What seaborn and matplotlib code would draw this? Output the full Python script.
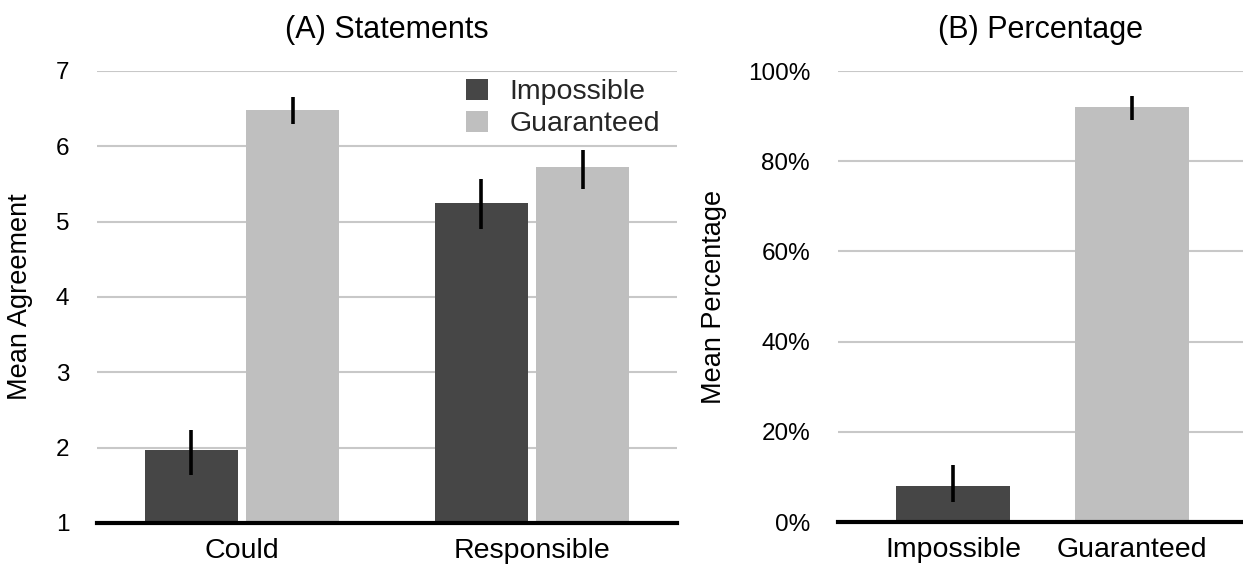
import matplotlib
matplotlib.use("Agg")
import matplotlib.pyplot as plt
import matplotlib.ticker as mticker
import numpy as np
import pandas as pd
import seaborn as sns

# Panel A: mean agreement with each statement, by condition
statements = ["Could", "Responsible"]
conditions = ["Impossible", "Guaranteed"]
agree_impossible = [1.97, 5.25]
agree_guaranteed = [6.48, 5.72]
agree_lo_impossible = [1.64, 4.90]
agree_hi_impossible = [2.23, 5.57]
agree_lo_guaranteed = [6.30, 5.43]
agree_hi_guaranteed = [6.65, 5.95]

# Panel B: mean percentage by condition
pct_mean = [8.0, 92.1]
pct_lo = [4.5, 89.1]
pct_hi = [12.6, 94.5]

yticks_a = [1, 2, 3, 4, 5, 6, 7]
yticks_b = [0, 20, 40, 60, 80, 100]

DARK = "#464646"
LIGHT = "#bfbfbf"
GRID = "#c8c8c8"

sns.set_theme(style="white")
plt.rcParams["font.family"] = ["Liberation Sans", "DejaVu Sans"]

fig = plt.figure(figsize=(12.43, 5.70), dpi=100)
ax_a = fig.add_axes([0.078, 0.0825, 0.4667, 0.793])
ax_b = fig.add_axes([0.674, 0.0842, 0.326, 0.7912])

df_a = pd.DataFrame({
    "statement": statements * 2,
    "condition": [conditions[0]] * 2 + [conditions[1]] * 2,
    "mean": agree_impossible + agree_guaranteed,
    "lo": agree_lo_impossible + agree_lo_guaranteed,
    "hi": agree_hi_impossible + agree_hi_guaranteed,
})
df_b = pd.DataFrame({"condition": conditions, "mean": pct_mean,
                     "lo": pct_lo, "hi": pct_hi})
palette = {conditions[0]: DARK, conditions[1]: LIGHT}

sns.barplot(data=df_a, x="statement", y="mean", hue="condition",
            hue_order=conditions, order=statements, palette=palette,
            width=0.7, gap=0.08, errorbar=None, saturation=1,
            linewidth=0, ax=ax_a)
sns.barplot(data=df_b, x="condition", y="mean", hue="condition",
            order=conditions, palette=palette, width=0.64,
            errorbar=None, saturation=1, linewidth=0, legend=False, ax=ax_b)


def add_errorbars(ax, df):
    """Draw error lines at the centre of each bar, matched by bar height."""
    for p in ax.patches:
        h = p.get_height()
        if not np.isfinite(h) or p.get_width() == 0:
            continue
        idx = (df["mean"] - h).abs().idxmin()
        if abs(df.loc[idx, "mean"] - h) > 1e-6:
            continue
        xc = p.get_x() + p.get_width() / 2
        ax.vlines(xc, df.loc[idx, "lo"], df.loc[idx, "hi"],
                  color="black", lw=2.6, zorder=5)


add_errorbars(ax_a, df_a)
add_errorbars(ax_b, df_b)

for ax in (ax_a, ax_b):
    ax.set_axisbelow(True)
    ax.yaxis.grid(True, color=GRID, lw=1.5)
    ax.xaxis.grid(False)
    for side in ("left", "right", "top"):
        ax.spines[side].set_visible(False)
    ax.spines["bottom"].set_color("black")
    ax.spines["bottom"].set_linewidth(3)
    ax.tick_params(axis="y", length=0, pad=20, labelsize=17.5, colors="black")
    ax.tick_params(axis="x", length=0, pad=11, labelsize=20.5, colors="black")
    ax.set_xlabel("")

ax_a.set_ylim(1, 7)
ax_a.set_yticks(yticks_a)
ax_a.set_xlim(-0.5, 1.5)
ax_a.set_ylabel("Mean Agreement", fontsize=19.5, labelpad=16, color="black")
ax_a.set_title("(A) Statements", fontsize=22, pad=24, color="black")

ax_b.set_ylim(0, 100)
ax_b.set_yticks(yticks_b)
ax_b.yaxis.set_major_formatter(mticker.FuncFormatter(lambda v, _: f"{v:.0f}%"))
ax_b.set_xlim(-0.645, 1.62)
ax_b.set_ylabel("Mean Percentage", fontsize=19.5, labelpad=15, color="black")
ax_b.set_title("(B) Percentage", fontsize=22, pad=24, color="black")

leg = ax_a.legend(loc="upper left", bbox_to_anchor=(0.601, 1.027), frameon=False,
                  fontsize=20.5, handlelength=0.8, handleheight=0.8,
                  handletextpad=0.75, labelspacing=0.18, borderaxespad=0.3)
for h in leg.legend_handles:
    h.set_linewidth(0)

fig.savefig("out.png", dpi=100, facecolor="white")
